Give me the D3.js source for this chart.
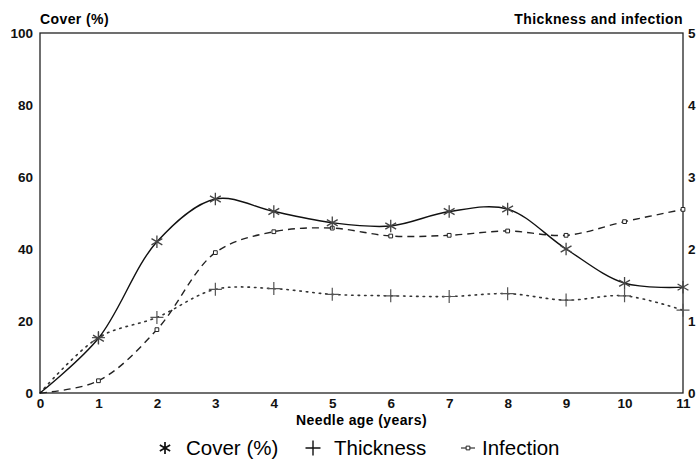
<!DOCTYPE html>
<meta charset="utf-8">
<script src="https://d3js.org/d3.v7.min.js"></script>
<style>
  body { margin: 0; background: #fff; }
  text { font-family: "Liberation Sans", Arial, sans-serif; }
</style>
<div id="chart"></div>
<script>

    // needle age in years
    var ages = [0, 1, 2, 3, 4, 5, 6, 7, 8, 9, 10, 11];
    // left axis
    var cover = [0, 15.2, 42, 53.9, 50.4, 47.3, 46.4, 50.4, 51.1, 40, 30.5, 29.4];
    // right axis
    var thickness = [0, 0.77, 1.05, 1.44, 1.45, 1.37, 1.35, 1.34, 1.38, 1.29, 1.35, 1.15];
    var infection = [0, 0.17, 0.88, 1.95, 2.24, 2.29, 2.18, 2.19, 2.25, 2.19, 2.38, 2.55];

    var leftTicks = [0, 20, 40, 60, 80, 100];
    var rightTicks = [0, 1, 2, 3, 4, 5];

    var margin = {top: 33, right: 16, bottom: 66, left: 40},
        width = 699 - margin.left - margin.right,
        height = 459 - margin.top - margin.bottom;

    var root = d3.select("#chart")
      .append("svg")
        .attr("width", 699)
        .attr("height", 459);

    var svg = root.append("g")
        .attr("transform", "translate(" + margin.left + "," + margin.top + ")");

    var x = d3.scaleLinear()
      .domain([0, 11])
      .range([0, width]);

    var yL = d3.scaleLinear()
      .domain([0, 100])
      .range([height, 0]);

    var yR = d3.scaleLinear()
      .domain([0, 5])
      .range([height, 0]);

    // frame around the plot
    svg.append("rect")
        .attr("width", width)
        .attr("height", height)
        .attr("fill", "none")
        .attr("stroke", "#222")
        .attr("stroke-width", 1.3);

    // axes, no tick marks
    var xAxis = svg.append("g")
        .attr("transform", "translate(0," + height + ")")
        .call(d3.axisBottom(x).tickValues(ages).tickSize(0).tickPadding(5));

    var leftAxis = svg.append("g")
        .call(d3.axisLeft(yL).tickValues(leftTicks).tickSize(0).tickPadding(7));

    var rightAxis = svg.append("g")
        .attr("transform", "translate(" + width + ",0)")
        .call(d3.axisRight(yR).tickValues(rightTicks).tickFormat(d3.format("d")).tickSize(0).tickPadding(5));

    [xAxis, leftAxis, rightAxis].forEach(function(a) {
      a.select(".domain").remove();
      a.selectAll("text")
        .attr("font-size", "13.5px")
        .attr("font-weight", "bold")
        .attr("fill", "#111");
    });

    svg.append("text")
        .attr("x", 0)
        .attr("y", -9)
        .attr("font-size", "14px")
        .attr("letter-spacing", "0.4px")
        .attr("font-weight", "bold")
        .text("Cover (%)");

    svg.append("text")
        .attr("x", width)
        .attr("y", -9)
        .attr("text-anchor", "end")
        .attr("font-size", "14px")
        .attr("letter-spacing", "0.4px")
        .attr("font-weight", "bold")
        .text("Thickness and infection");

    svg.append("text")
        .attr("x", width / 2)
        .attr("y", height + 32)
        .attr("text-anchor", "middle")
        .attr("font-size", "14px")
        .attr("letter-spacing", "0.4px")
        .attr("font-weight", "bold")
        .text("Needle age (years)");

    var curve = d3.curveCatmullRom.alpha(0.5);

    var lineCover = d3.line()
        .x(function(d, i) { return x(ages[i]); })
        .y(function(d) { return yL(d); })
        .curve(curve);

    var lineRight = d3.line()
        .x(function(d, i) { return x(ages[i]); })
        .y(function(d) { return yR(d); })
        .curve(curve);

    svg.append("path")
        .attr("d", lineRight(thickness))
        .attr("fill", "none")
        .attr("stroke", "#333")
        .attr("stroke-width", 1.6)
        .attr("stroke-dasharray", "1.5,5")
        .attr("stroke-linecap", "round");

    svg.append("path")
        .attr("d", lineRight(infection))
        .attr("fill", "none")
        .attr("stroke", "#222")
        .attr("stroke-width", 1.4)
        .attr("stroke-dasharray", "7,5");

    svg.append("path")
        .attr("d", lineCover(cover))
        .attr("fill", "none")
        .attr("stroke", "#111")
        .attr("stroke-width", 1.4);

    // markers
    var plusPath = function(cx, cy, r) {
      return "M" + (cx - r) + "," + cy + "H" + (cx + r) + "M" + cx + "," + (cy - r) + "V" + (cy + r);
    };

    svg.append("g")
      .selectAll("path")
      .data(thickness.slice(1))
      .enter()
      .append("path")
        .attr("d", function(d, i) { return plusPath(x(ages[i + 1]), yR(d), 6.5); })
        .attr("fill", "none")
        .attr("stroke", "#555")
        .attr("stroke-width", 1.2);

    svg.append("g")
      .selectAll("path")
      .data(infection.slice(1))
      .enter()
      .append("path")
        .attr("transform", function(d, i) { return "translate(" + x(ages[i + 1]) + "," + yR(d) + ")"; })
        .attr("d", d3.symbol().type(d3.symbolSquare).size(14))
        .attr("fill", "#fff")
        .attr("stroke", "#222")
        .attr("stroke-width", 1);

    svg.append("g")
      .selectAll("path")
      .data(cover.slice(1))
      .enter()
      .append("path")
        .attr("transform", function(d, i) { return "translate(" + x(ages[i + 1]) + "," + yL(d) + ")"; })
        .attr("d", d3.symbol().type(d3.symbolAsterisk).size(110))
        .attr("fill", "none")
        .attr("stroke", "#444")
        .attr("stroke-width", 1.3);

    // legend
    var legend = root.append("g")
        .attr("transform", "translate(0,448)");

    legend.append("path")
        .attr("transform", "translate(165,0)")
        .attr("d", d3.symbol().type(d3.symbolAsterisk).size(100))
        .attr("fill", "none")
        .attr("stroke", "#111")
        .attr("stroke-width", 1.7);
    legend.append("text")
        .attr("x", 186)
        .attr("y", 7)
        .attr("font-size", "20.5px")
        .text("Cover (%)");

    legend.append("path")
        .attr("d", plusPath(313, 0, 7.5))
        .attr("fill", "none")
        .attr("stroke", "#111")
        .attr("stroke-width", 1.4);
    legend.append("text")
        .attr("x", 334)
        .attr("y", 7)
        .attr("font-size", "20.5px")
        .text("Thickness");

    legend.append("path")
        .attr("d", "M461,0H475")
        .attr("stroke", "#333")
        .attr("stroke-width", 1.2);
    legend.append("path")
        .attr("transform", "translate(468,0)")
        .attr("d", d3.symbol().type(d3.symbolSquare).size(14))
        .attr("fill", "#fff")
        .attr("stroke", "#222");
    legend.append("text")
        .attr("x", 482)
        .attr("y", 7)
        .attr("font-size", "20.5px")
        .text("Infection");

</script>
